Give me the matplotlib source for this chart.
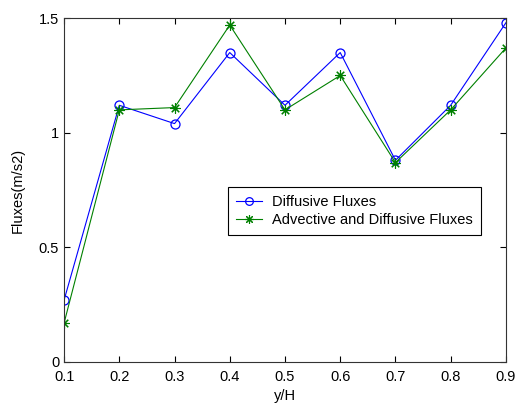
import numpy as np
import matplotlib
matplotlib.use('Agg')
import matplotlib.pyplot as plt

plt.rcParams['font.family'] = ['Liberation Sans', 'DejaVu Sans']

y_over_h = [0.1, 0.2, 0.3, 0.4, 0.5, 0.6, 0.7, 0.8, 0.9]
diffusive = [0.27, 1.12, 1.04, 1.35, 1.12, 1.35, 0.88, 1.12, 1.48]
adv_diff = [0.17, 1.10, 1.11, 1.47, 1.10, 1.25, 0.87, 1.10, 1.37]

fig = plt.figure(figsize=(5.21, 4.04), dpi=100)
ax = fig.add_axes([0.123, 0.104, 0.848, 0.851])

ax.plot(y_over_h, diffusive, color='#0000FF', marker='o', markersize=6.5,
        markerfacecolor='none', markeredgewidth=0.9, linewidth=0.8,
        label='Diffusive Fluxes')
# matlab style '*' marker (plus + cross)
ax.plot(y_over_h, adv_diff, color='#008000', marker=(8, 2, 0), markersize=7.5,
        markeredgewidth=0.8, linewidth=0.8,
        label='Advective and Diffusive Fluxes')

ax.set_xlim(0.1, 0.9)
ax.set_ylim(0, 1.5)
ax.set_xticks(y_over_h)
ax.set_xticklabels(['0.1', '0.2', '0.3', '0.4', '0.5', '0.6', '0.7', '0.8', '0.9'])
ax.set_yticks([0, 0.5, 1, 1.5])
ax.set_yticklabels(['0', '0.5', '1', '1.5'])
ax.tick_params(direction='in', top=True, right=True, labelsize=10.5, length=4, width=0.8)
ax.tick_params(axis='x', pad=5.5)
for s in ax.spines.values():
    s.set_linewidth(0.8)
    s.set_color('#333333')

ax.set_xlabel('y/H', fontsize=10.5, labelpad=4)
ax.set_ylabel('Fluxes(m/s2)', fontsize=10.5, labelpad=10)

leg = ax.legend(loc='lower left', bbox_to_anchor=(0.371, 0.369), fontsize=10.5,
                fancybox=False, framealpha=1, edgecolor='black', borderpad=0.55,
                handlelength=1.8, handletextpad=0.7, labelspacing=0.25,
                borderaxespad=0, markerscale=0.85)
leg.get_frame().set_linewidth(0.8)

fig.savefig('out.png', dpi=100)
